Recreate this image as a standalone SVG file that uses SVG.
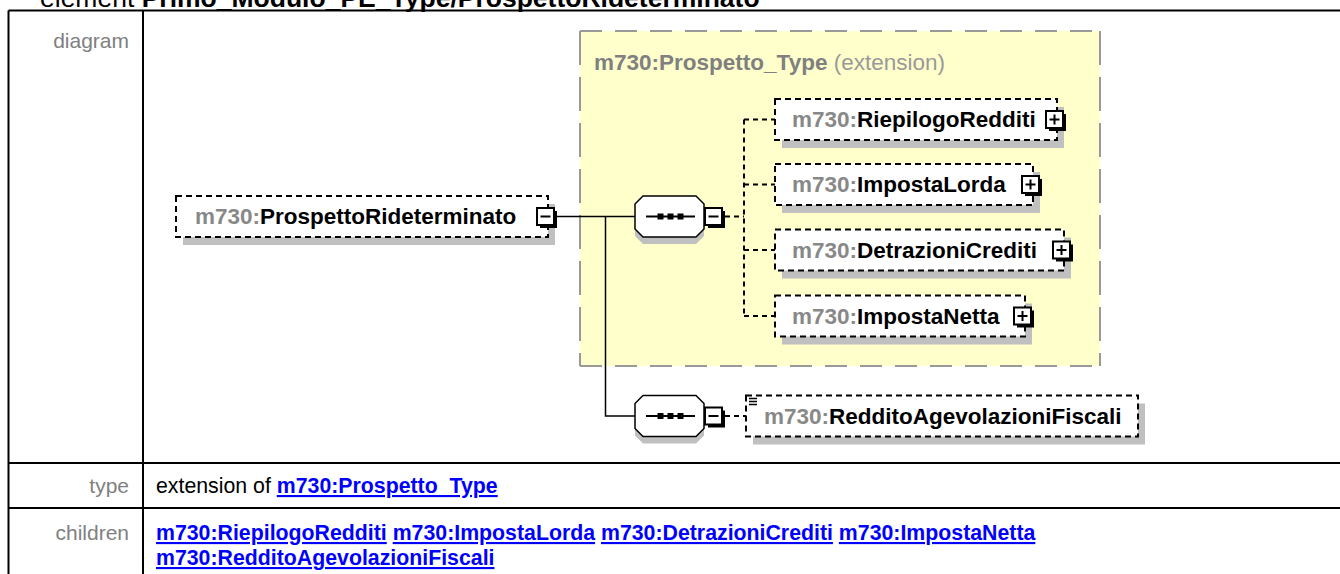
<svg xmlns="http://www.w3.org/2000/svg" width="1340" height="574" viewBox="0 0 1340 574">
<defs>
<style>
.tbl{stroke:#000;stroke-width:2;fill:none}
.ttl{font-family:"Liberation Sans",Arial,sans-serif;font-size:26.5px;fill:#000}
.lbl{font-family:"Liberation Sans",Arial,sans-serif;font-size:21px;fill:#808080;text-anchor:end}
.val{font-family:"Liberation Sans",Arial,sans-serif;font-size:21.3px;fill:#000}
.lnk{font-weight:bold;fill:#0000FF;text-decoration:underline}
.box{fill:#fff;stroke:#000;stroke-width:2;stroke-dasharray:6 4}
.sh{fill:#c0c0c0}
.nm{font-family:"Liberation Sans",Arial,sans-serif;font-size:22.5px;font-weight:bold;fill:#000}
.pfx{fill:#888}
.btn{fill:#fff;stroke:#000;stroke-width:2}
.gl{stroke:#000;stroke-width:2}
.ic{stroke:#000;stroke-width:1.3}
.conn{stroke:#000;stroke-width:1.5;fill:none}
.dconn{stroke:#000;stroke-width:2;fill:none;stroke-dasharray:5 4}
.oct{fill:#fff;stroke:#000;stroke-width:1.5}
.ybox{fill:#FFFFCC}
.yedge{stroke:#999;stroke-width:2;fill:none}
.ytl{font-family:"Liberation Sans",Arial,sans-serif;font-size:22.5px;fill:#808080}
</style>
<g id="plusBtn">
<rect x="3" y="3" width="17" height="17" fill="#000"/>
<rect class="btn" x="0" y="0" width="17" height="17"/>
<path class="gl" d="M3.5,8.5H13.5M8.5,3.5V13.5"/>
</g>
<g id="minusBtn">
<rect x="3" y="3" width="17" height="17" fill="#000"/>
<rect class="btn" x="0" y="0" width="17" height="17"/>
<path class="gl" d="M3.5,8.5H13.5"/>
</g>
<g id="seq">
<path class="sh" d="M8,7H61L69,15V40L61,48H8L0,40V15Z"/>
<path class="oct" d="M8,0H61L69,8V33L61,41H8L0,33V8Z"/>
<path class="gl" d="M11,20.5H60"/>
<rect x="22.5" y="17.5" width="6" height="6" fill="#000"/>
<rect x="32.5" y="17.5" width="6" height="6" fill="#000"/>
<rect x="42.5" y="17.5" width="6" height="6" fill="#000"/>
</g>
</defs>

<text class="ttl" x="40" y="7">element <tspan font-weight="bold">Primo_Modulo_PE_Type/ProspettoRideterminato</tspan></text>

<g id="table">
<path class="tbl" d="M8.5,10.5H1340M8.5,10.5V574M143,10.5V574M8.5,463H1340M8.5,508H1340"/>
<text class="lbl" x="129" y="48">diagram</text>
<text class="lbl" x="129" y="493">type</text>
<text class="lbl" x="129" y="540">children</text>
<text class="val" x="156" y="493">extension of <tspan class="lnk">m730:Prospetto_Type</tspan></text>
<text class="val" x="156" y="540"><tspan class="lnk">m730:RiepilogoRedditi</tspan> <tspan class="lnk">m730:ImpostaLorda</tspan> <tspan class="lnk">m730:DetrazioniCrediti</tspan> <tspan class="lnk">m730:ImpostaNetta</tspan></text>
<text class="val" x="156" y="565"><tspan class="lnk">m730:RedditoAgevolazioniFiscali</tspan></text>
</g>

<g id="ProspettoType">
<rect class="ybox" x="580" y="31" width="520" height="335"/>
<path class="yedge" d="M580,31H1100M580,366H1100" stroke-dasharray="22 13"/>
<path class="yedge" d="M580,31V366M1100,31V366" stroke-dasharray="34 12"/>
<text class="ytl" x="594" y="70"><tspan font-weight="bold">m730:Prospetto_Type</tspan> <tspan fill="#999">(extension)</tspan></text>
</g>

<g id="connectors">
<path class="conn" d="M557,216.5H635M605.5,216.5V416H635"/>
<path class="dconn" d="M725,216.5H744M744,119.5V316M744,119.5H775M744,184.5H775M744,250H775M744,316H775M725,416H746"/>
</g>

<g id="ProspettoRideterminato">
<rect class="sh" x="183" y="204" width="372" height="41"/>
<rect class="box" x="176" y="196" width="372" height="41"/>
<text class="nm" x="195" y="224"><tspan class="pfx">m730:</tspan>ProspettoRideterminato</text>
<use href="#minusBtn" x="537" y="208"/>
</g>

<g id="seq1">
<use href="#seq" x="635" y="196"/>
<use href="#minusBtn" x="705" y="208"/>
</g>

<g id="seq2">
<use href="#seq" x="635" y="395.5"/>
<use href="#minusBtn" x="705" y="407.5"/>
</g>

<g id="RiepilogoRedditi">
<rect class="sh" x="782" y="107" width="282" height="41"/>
<rect class="box" x="775" y="99" width="282" height="41"/>
<text class="nm" x="792" y="127"><tspan class="pfx">m730:</tspan>RiepilogoRedditi</text>
<use href="#plusBtn" x="1046" y="111"/>
</g>

<g id="ImpostaLorda">
<rect class="sh" x="782" y="172" width="258" height="41"/>
<rect class="box" x="775" y="164" width="258" height="41"/>
<text class="nm" x="792" y="192"><tspan class="pfx">m730:</tspan>ImpostaLorda</text>
<use href="#plusBtn" x="1022" y="176"/>
</g>

<g id="DetrazioniCrediti">
<rect class="sh" x="782" y="237.5" width="289" height="41"/>
<rect class="box" x="775" y="229.5" width="289" height="41"/>
<text class="nm" x="792" y="257.5"><tspan class="pfx">m730:</tspan>DetrazioniCrediti</text>
<use href="#plusBtn" x="1053" y="241.5"/>
</g>

<g id="ImpostaNetta">
<rect class="sh" x="782" y="303.5" width="250" height="41"/>
<rect class="box" x="775" y="295.5" width="250" height="41"/>
<text class="nm" x="792" y="323.5"><tspan class="pfx">m730:</tspan>ImpostaNetta</text>
<use href="#plusBtn" x="1014" y="307.5"/>
</g>

<g id="RedditoAgevolazioniFiscali">
<rect class="sh" x="753" y="403.5" width="392" height="41"/>
<rect class="box" x="746" y="395.5" width="392" height="41"/>
<path class="ic" d="M749,398.5H757M749,401.5H757M749,404.5H757"/>
<text class="nm" x="764" y="424"><tspan class="pfx">m730:</tspan>RedditoAgevolazioniFiscali</text>
</g>
</svg>
